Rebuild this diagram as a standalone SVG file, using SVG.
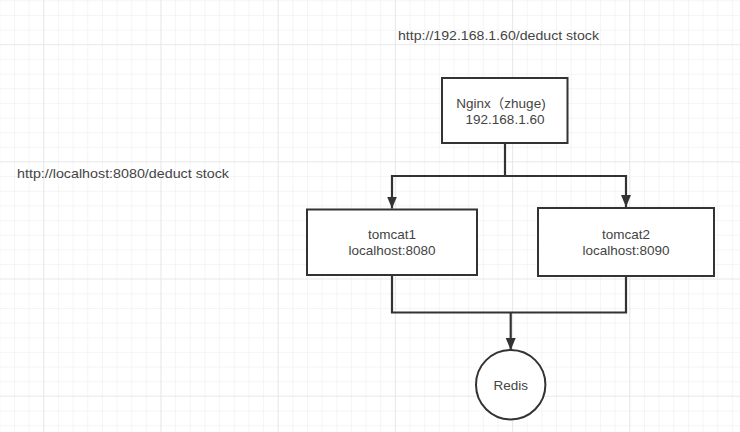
<svg xmlns="http://www.w3.org/2000/svg" width="740" height="432" viewBox="0 0 740 432">
<defs>
<pattern id="minor" x="-0.65" y="0.35" width="14.65" height="14.65" patternUnits="userSpaceOnUse">
<path d="M0 0H14.65M0 0V14.65" fill="none" stroke="#ececec" stroke-width="1"/>
</pattern>
<pattern id="major" x="43.3" y="44" width="117.2" height="117.2" patternUnits="userSpaceOnUse">
<path d="M0 0H117.2M0 0V117.2" fill="none" stroke="#e0e0e0" stroke-width="1.2"/>
</pattern>
<marker id="arr" markerWidth="12" markerHeight="10" refX="12" refY="5" orient="auto" markerUnits="userSpaceOnUse" viewBox="0 0 12 10">
<path d="M0 0L12 5L0 10Z" fill="#333"/>
</marker>
<style>
.box{fill:#fff;stroke:#333;stroke-width:2}
.t{font-family:"Liberation Sans","Noto Sans CJK SC",sans-serif;font-size:13.5px;fill:#444;text-anchor:middle}
.tl{font-family:"Liberation Sans","Noto Sans CJK SC",sans-serif;font-size:13.5px;fill:#444}
.c{fill:none;stroke:#333;stroke-width:2.2}
</style>
</defs>
<rect width="740" height="432" fill="#fff"/>
<rect width="740" height="432" fill="url(#minor)"/>
<rect width="740" height="432" fill="url(#major)"/>

<g id="labels">
<text class="tl" x="398" y="40" textLength="201" lengthAdjust="spacingAndGlyphs">http://192.168.1.60/deduct  stock</text>
<text class="tl" x="17" y="178" textLength="212" lengthAdjust="spacingAndGlyphs">http://localhost:8080/deduct  stock</text>
</g>

<g id="connectors">
<path class="c" d="M505 143V176H392V208.5" marker-end="url(#arr)"/>
<path class="c" d="M505 176H626V207" marker-end="url(#arr)"/>
<path class="c" d="M392 275V312.5H626V276"/>
<path class="c" d="M510.7 312.5V350" marker-end="url(#arr)"/>
</g>

<g id="nginx">
<rect class="box" x="442" y="78" width="125.5" height="65"/>
<text class="t" x="501" y="108">Nginx（zhuge)</text>
<text class="t" x="505" y="124">192.168.1.60</text>
</g>

<g id="tomcat1">
<rect class="box" x="307" y="209.5" width="170" height="65.5"/>
<text class="t" x="392" y="239">tomcat1</text>
<text class="t" x="392" y="255">localhost:8080</text>
</g>

<g id="tomcat2">
<rect class="box" x="538" y="208" width="176" height="68"/>
<text class="t" x="626" y="239">tomcat2</text>
<text class="t" x="626" y="255">localhost:8090</text>
</g>

<g id="redis">
<circle class="box" cx="510.7" cy="384.7" r="34.7"/>
<text class="t" x="510.7" y="390">Redis</text>
</g>
</svg>
